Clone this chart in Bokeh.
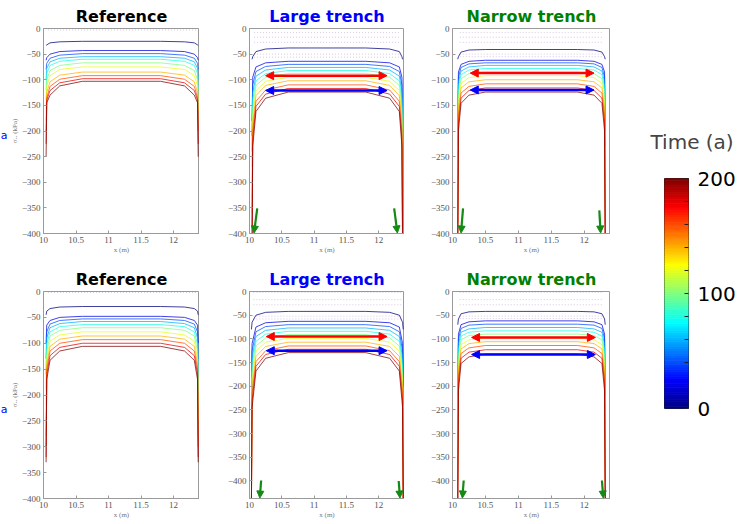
import numpy as np
from bokeh.plotting import figure
from bokeh.layouts import row, column
from bokeh.models import Arrow, NormalHead, FixedTicker, Range1d
from bokeh.core.properties import value
from bokeh.embed import file_html
from bokeh.resources import INLINE

times = [0, 20, 40, 60, 80, 100, 120, 140, 160, 180, 200]
x_ticks = [10, 10.5, 11, 11.5, 12]
y_ticks = [0, -50, -100, -150, -200, -250, -300, -350, -400]

# ---- Reference, top row ----
refA_x = [10.04, 10.05, 10.10, 10.25, 10.60, 11.80, 12.17, 12.32, 12.37, 12.38]
refA_P = [-25, -43, -49, -55, -60, -67, -75, -85, -92, -98, -103]
refA_S = [-26, -45, -52, -58, -64, -72, -80, -91, -99, -106, -112]
refA_F = [-28, -50, -58, -65, -72, -82, -92, -104, -113, -121, -130]
refA_E = [-32, -57, -68, -78, -88, -100, -112, -125, -135, -140, -145]
refA_D = [-33, -62, -80, -100, -120, -140, -160, -180, -200, -225, -250]
refA_faint = [-3]

# ---- Large trench, top row ----
largeA_x = [10.04, 10.05, 10.10, 10.25, 10.60, 11.80, 12.17, 12.32, 12.36, 12.37]
largeA_P = [-38, -64, -70, -76, -82, -88, -95, -102, -110, -117, -124]
largeA_S = [-40, -67, -74, -81, -88, -95, -103, -111, -120, -128, -136]
largeA_F = [-45, -75, -84, -93, -102, -111, -121, -131, -142, -152, -162]
largeA_E = [-55, -95, -110, -125, -140, -155, -170, -185, -200, -215, -230]
largeA_D = [-60, -180, -210, -240, -270, -300, -330, -360, -390, -420, -420]
largeA_faint = [-8, -17, -27, -50, -56]

# ---- Narrow trench, top row ----
narrowA_x = [10.08, 10.09, 10.13, 10.25, 10.50, 11.90, 12.15, 12.27, 12.31, 12.32]
narrowA_P = [-41, -62, -67, -72, -78, -85, -92, -100, -108, -116, -124]
narrowA_S = [-42, -64, -69, -75, -81, -88, -96, -104, -113, -121, -130]
narrowA_F = [-46, -70, -76, -83, -90, -98, -107, -116, -126, -136, -146]
narrowA_E = [-55, -85, -95, -105, -115, -125, -140, -155, -170, -185, -200]
narrowA_D = [-60, -200, -230, -260, -290, -320, -350, -380, -410, -420, -420]
narrowA_faint = [-8, -17, -27, -50, -55]

# ---- Reference, bottom row ----
refB_x = [10.04, 10.05, 10.10, 10.25, 10.60, 11.80, 12.17, 12.32, 12.37, 12.38]
refB_P = [-29, -48, -53, -58, -64, -70, -78, -86, -93, -100, -106]
refB_S = [-30, -50, -56, -62, -68, -75, -84, -92, -100, -108, -115]
refB_F = [-33, -56, -63, -70, -78, -86, -96, -106, -115, -124, -133]
refB_E = [-38, -65, -78, -90, -102, -115, -128, -140, -150, -160, -170]
refB_D = [-45, -100, -130, -160, -190, -220, -250, -280, -300, -320, -330]
refB_faint = [-2]

# ---- Large trench, bottom row ----
largeB_x = [10.03, 10.04, 10.10, 10.25, 10.60, 11.80, 12.17, 12.32, 12.37, 12.38]
largeB_P = [-42, -63, -70, -77, -84, -91, -99, -107, -115, -122, -129]
largeB_S = [-44, -66, -74, -82, -90, -98, -107, -116, -125, -133, -141]
largeB_F = [-50, -75, -85, -95, -105, -115, -126, -137, -148, -158, -168]
largeB_E = [-65, -110, -125, -140, -155, -170, -185, -200, -215, -230, -245]
largeB_D = [-80, -200, -240, -280, -320, -360, -400, -440, -440, -440, -440]
largeB_faint = [-2, -17, -28, -52, -58]

# ---- Narrow trench, bottom row ----
narrowB_x = [10.08, 10.09, 10.13, 10.25, 10.50, 11.90, 12.15, 12.27, 12.31, 12.32]
narrowB_P = [-42, -62, -69, -76, -83, -90, -98, -106, -114, -123, -132]
narrowB_S = [-43, -64, -71, -79, -86, -93, -102, -110, -119, -128, -138]
narrowB_F = [-47, -70, -78, -86, -94, -102, -112, -121, -131, -141, -152]
narrowB_E = [-58, -90, -100, -112, -124, -136, -150, -165, -180, -195, -210]
narrowB_D = [-70, -220, -250, -280, -310, -340, -370, -400, -440, -440, -440]
narrowB_faint = [-2, -17, -28, -52, -57]

# arrows (x_start, x_end, y) for red / blue horizontal double arrows
red_arrows = {"largeA": (10.25, 12.13, -92), "narrowA": (10.27, 12.15, -87),
              "largeB": (10.26, 12.13, -95), "narrowB": (10.29, 12.17, -97)}
blue_arrows = {"largeA": (10.25, 12.13, -121), "narrowA": (10.27, 12.15, -120),
               "largeB": (10.26, 12.13, -125), "narrowB": (10.29, 12.17, -133)}
# green down arrows: (x0, y0, x1, y1) left and right
green_arrows = {"largeA": ((10.12, -351, 10.07, -399), (12.24, -351, 12.29, -399)),
                "narrowA": ((10.16, -351, 10.13, -399), (12.23, -355, 12.25, -399)),
                "largeB": ((10.18, -399, 10.16, -436), (12.31, -400, 12.33, -436)),
                "narrowB": ((10.17, -399, 10.15, -436), (12.27, -399, 12.29, -436))}

# blue marks at the far left edge
edge_text = ["a", "a"]
edge_y = [135, 409]


def jet(v):
    r = min(max(1.5 - abs(4 * v - 3), 0), 1)
    g = min(max(1.5 - abs(4 * v - 2), 0), 1)
    b = min(max(1.5 - abs(4 * v - 1), 0), 1)
    return "#%02x%02x%02x" % (int(r * 255), int(g * 255), int(b * 255))


def make_panel(title, tcolor, xk, P, S, F, E, D, faint, ybot, top, frame_h, bottom, left, width,
               ylabel=None, key=None):
    p = figure(width=width, height=top + bottom + frame_h,
               x_range=Range1d(10, 12.4), y_range=Range1d(ybot, 0),
               output_backend="svg", toolbar_location=None,
               min_border_left=left, min_border_right=0,
               min_border_top=top, min_border_bottom=bottom)
    p.title.text = title
    p.title.text_color = tcolor
    p.title.text_font = "DejaVu Sans"
    p.title.text_font_style = "bold"
    p.title.text_font_size = "16px"
    p.title.align = "center"
    p.title.standoff = 5
    p.xgrid.visible = False
    p.ygrid.visible = False
    p.outline_line_color = "#9a9a9a"
    p.background_fill_color = "white"
    p.border_fill_color = "white"
    for ax in (p.xaxis, p.yaxis):
        ax.axis_line_color = "#9a9a9a"
        ax.major_tick_line_color = "#9a9a9a"
        ax.major_tick_in = 3
        ax.major_tick_out = 0
        ax.minor_tick_line_color = None
        ax.major_label_text_font = "Liberation Serif"
        ax.major_label_text_font_size = "9px"
        ax.major_label_text_color = "#555555"
        ax.major_label_standoff = 3
        ax.axis_label_text_font = "Liberation Serif"
        ax.axis_label_text_font_size = "7px"
        ax.axis_label_text_font_style = "normal"
        ax.axis_label_text_color = "#777777"
        ax.axis_label_standoff = 0
    p.xaxis.ticker = FixedTicker(ticks=x_ticks)
    p.xaxis.major_label_overrides = {10: "10", 10.5: "10.5", 11: "11", 11.5: "11.5", 12: "12"}
    p.yaxis.ticker = FixedTicker(ticks=y_ticks)
    p.xaxis.axis_label = "x (m)"
    if ylabel:
        p.yaxis.axis_label = ylabel
    for yf in faint:
        p.line([xk[1] + 0.02, xk[-2] - 0.02], [yf, yf], line_color="#b79fc9",
               line_width=1, line_alpha=0.55, line_dash="1 2")
    for k, t in enumerate(times):
        xs = list(xk)
        ys = [D[k], E[k], F[k], S[k], P[k], P[k], S[k], F[k], E[k], D[k]]
        p.line(xs, ys, line_color=jet(t / 200), line_width=1, line_alpha=0.75)
    if key:
        for arr, col in ((red_arrows, "#ff0000"), (blue_arrows, "#0000ff")):
            x0, x1, y = arr[key]
            p.add_layout(Arrow(start=NormalHead(size=8, fill_color=col, line_color=col),
                               end=NormalHead(size=8, fill_color=col, line_color=col),
                               x_start=x0, y_start=y, x_end=x1, y_end=y,
                               line_color=col, line_width=2.5))
        for (x0, y0, x1, y1) in green_arrows[key]:
            p.add_layout(Arrow(end=NormalHead(size=7, fill_color="#138a13", line_color="#138a13"),
                               x_start=x0, y_start=y0, x_end=x1, y_end=y1,
                               line_color="#138a13", line_width=2.2))
    return p


def make_strip(top, frame_h, bottom, y0, label_y, txt):
    s = figure(width=7, height=top + frame_h + bottom, x_range=Range1d(0, 7),
               y_range=Range1d(y0 + frame_h, y0),
               output_backend="svg", toolbar_location=None,
               min_border_left=0, min_border_right=0, min_border_top=top,
               min_border_bottom=bottom, x_axis_location=None, y_axis_location=None)
    s.xgrid.visible = False
    s.ygrid.visible = False
    s.outline_line_color = None
    s.text(x=[0.2], y=[label_y], text=[txt], text_color="#0000ff",
           text_font=value("DejaVu Sans"), text_font_size="11px",
           text_baseline="middle", text_align="left")
    return s


s1 = make_strip(28, 205, 29, 28, edge_y[0], edge_text[0])
s2 = make_strip(29, 207, 26, 291, edge_y[1], edge_text[1])

f1 = make_panel("Reference", "black", refA_x, refA_P, refA_S, refA_F, refA_E, refA_D, refA_faint,
                -400, 28, 205, 29, 36, 192, ylabel="σₓₓ (kPa)")
f2 = make_panel("Large trench", "#0000ff", largeA_x, largeA_P, largeA_S, largeA_F, largeA_E,
                largeA_D, largeA_faint, -400, 28, 205, 29, 50, 205, key="largeA")
f3 = make_panel("Narrow trench", "#008000", narrowA_x, narrowA_P, narrowA_S, narrowA_F,
                narrowA_E, narrowA_D, narrowA_faint, -400, 28, 205, 29, 48, 206, key="narrowA")
g1 = make_panel("Reference", "black", refB_x, refB_P, refB_S, refB_F, refB_E, refB_D, refB_faint,
                -400, 29, 207, 26, 36, 192, ylabel="σₓₓ (kPa)")
g2 = make_panel("Large trench", "#0000ff", largeB_x, largeB_P, largeB_S, largeB_F, largeB_E,
                largeB_D, largeB_faint, -437, 29, 207, 26, 50, 205, key="largeB")
g3 = make_panel("Narrow trench", "#008000", narrowB_x, narrowB_P, narrowB_S, narrowB_F,
                narrowB_E, narrowB_D, narrowB_faint, -437, 29, 207, 26, 48, 206, key="narrowB")

# ---- colour bar ----
cb_levels = list(np.linspace(0, 200, 101))
cb = figure(width=129, height=524, x_range=Range1d(0, 1), y_range=Range1d(0, 200),
            output_backend="svg", toolbar_location=None,
            min_border_left=54, min_border_right=51, min_border_top=178, min_border_bottom=116,
            x_axis_location=None, y_axis_location="right")
cb.xgrid.visible = False
cb.ygrid.visible = False
cb_cols = [jet((a + b) / 400) for a, b in zip(cb_levels[:-1], cb_levels[1:])]
cb.quad(left=0, right=1, bottom=cb_levels[:-1], top=cb_levels[1:],
        fill_color=cb_cols, line_color=cb_cols, line_width=0.8)
cb.outline_line_color = "#222222"
cb.yaxis.ticker = FixedTicker(ticks=[0, 100, 200], minor_ticks=[20, 40, 60, 80, 120, 140, 160, 180])
cb.yaxis.axis_line_color = None
cb.yaxis.major_tick_in = 4
cb.yaxis.major_tick_out = 0
cb.yaxis.minor_tick_in = 4
cb.yaxis.minor_tick_out = 0
cb.yaxis.major_tick_line_color = "#222222"
cb.yaxis.minor_tick_line_color = "#222222"
cb.yaxis.major_label_text_font = "DejaVu Sans"
cb.yaxis.major_label_text_font_size = "20px"
cb.yaxis.major_label_text_color = "black"
cb.yaxis.major_label_standoff = 9
cb.title.text = "Time (a)"
cb.title.text_font = "DejaVu Sans"
cb.title.text_font_style = "normal"
cb.title.text_font_size = "20px"
cb.title.align = "left"
cb.title.offset = -14
cb.title.standoff = 50

layout = row(column(row(s1, f1, f2, f3), row(s2, g1, g2, g3)), cb)
open("out.html", "w").write(file_html(layout, INLINE))
